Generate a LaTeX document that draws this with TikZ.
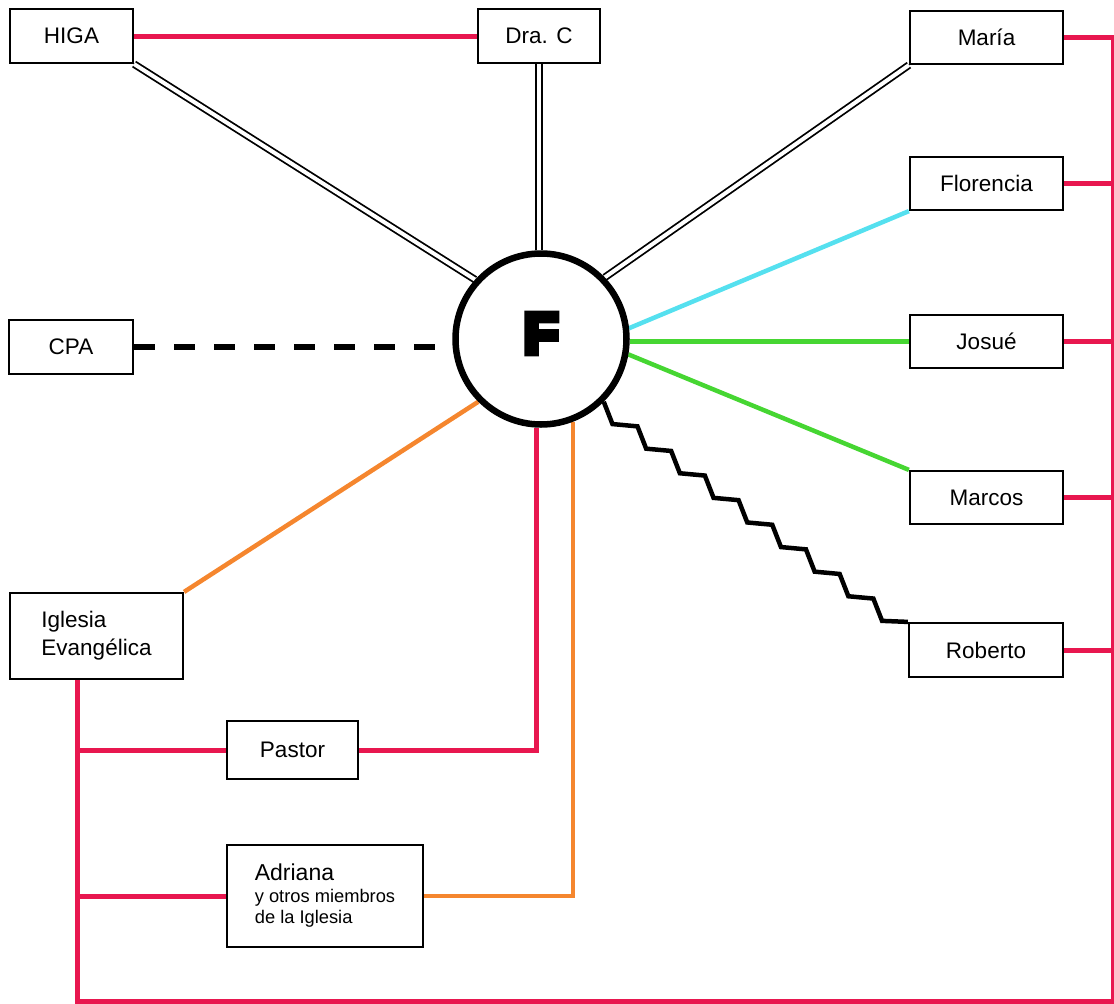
\documentclass[tikz,border=0pt]{standalone}
\usepackage{fontspec}
\setmainfont{Liberation Sans}
\newfontfamily\heavyfont[BoldFeatures={FakeBold=11}]{Liberation Sans}
\usetikzlibrary{calc}
\pgfdeclarelayer{bg}
\pgfsetlayers{bg,main}
\definecolor{relred}{HTML}{E8174F}
\definecolor{relora}{HTML}{F5862E}
\definecolor{relgrn}{HTML}{46D632}
\definecolor{relcya}{HTML}{55E0EF}
\begin{document}
\begin{tikzpicture}[x=1pt,y=-1pt,
  box/.style={draw=black, line width=2.2pt, fill=white, inner sep=0pt,
    font=\fontsize{22.5}{28}\selectfont},
  fcirc/.style={circle, draw=black, line width=6.5pt, fill=white, inner sep=0pt, minimum size=171pt},
  redline/.style={draw=relred, line width=5pt},
  oraline/.style={draw=relora, line width=4.5pt},
  grnline/.style={draw=relgrn, line width=4.5pt},
  cyaline/.style={draw=relcya, line width=4.5pt},
  dbl/.style={draw=black, line width=1.8pt, double=white, double distance=4pt},
  dashline/.style={draw=black, line width=5.5pt, dash pattern=on 21pt off 19pt},
  zigline/.style={draw=black, line width=4.5pt, line join=miter}
]
\useasboundingbox (0,0) rectangle (1114,1004);

% nodes
\node[box, minimum width=123pt, minimum height=54pt] (HIGA) at (71.5,36) {HIGA};
\node[box, minimum width=122pt, minimum height=54pt] (DraC) at (539,36) {Dra. C};
\node[box, minimum width=153pt, minimum height=53pt] (Maria) at (986.5,37.5) {María};
\node[box, minimum width=153pt, minimum height=53pt] (Florencia) at (986.5,183.5) {Florencia};
\node[box, minimum width=153pt, minimum height=53pt] (Josue) at (986.5,341.5) {Josué};
\node[box, minimum width=153pt, minimum height=53pt] (Marcos) at (986.5,497.5) {Marcos};
\node[box, minimum width=154pt, minimum height=54pt] (Roberto) at (986,650) {Roberto};
\node[box, minimum width=124pt, minimum height=54pt] (CPA) at (71,347) {CPA};
\node[box, minimum width=173pt, minimum height=86pt, align=left] (Iglesia) at (96.5,636) {Iglesia\\Evangélica};
\node[box, minimum width=131pt, minimum height=58pt] (Pastor) at (292.5,750) {Pastor};
\node[box, minimum width=196pt, minimum height=102pt, align=left,
      font=\fontsize{18.3}{21.5}\selectfont] (Adriana) at (325,896)
      {{\fontsize{23}{22}\selectfont Adriana}\\y otros miembros\\de la Iglesia};
\node[fcirc, label={[font=\fontsize{57}{57}\heavyfont\bfseries, yshift=5.5pt]center:F}] (F) at (541,339) {};

\begin{pgfonlayer}{bg}
  % double links
  \draw[dbl] (HIGA.south east) -- (F.138);
  \draw[dbl] (DraC.south) -- (DraC.south |- F.north);
  \draw[dbl] (Maria.south west) -- (F.44);
  % red top link
  \draw[redline] (HIGA.east) -- (DraC.west);
  % coloured links
  \draw[cyaline] (Florencia.south west) -- (F.7);
  \draw[grnline] (Josue.west) -- (Josue.west -| F.east);
  \draw[grnline] (Marcos.north west) -- (F.-10);
  \draw[dashline] (CPA.east) -- (CPA.east -| F.west);
  \draw[oraline] (Iglesia.north east) -- (F.-135);
  \draw[oraline] (Adriana.east) -| (F.-69);
  \draw[redline] (Pastor.east) -| (F.-93);
  % zigzag to Roberto
  \draw[zigline] (F.-45)
    -- ++(8.7,22.3) -- ++(25,2.3)
    -- ++(8.7,22.3) -- ++(25,2.3)
    -- ++(8.7,22.3) -- ++(25,2.3)
    -- ++(8.7,22.3) -- ++(25,2.3)
    -- ++(8.7,22.3) -- ++(25,2.3)
    -- ++(8.7,22.3) -- ++(25,2.3)
    -- ++(8.7,22.3) -- ++(25,2.3)
    -- ++(8.7,22.3) -- ++(25,2.3)
    -- ++(8.7,22.3) -- (Roberto.north west);
  % red network
  \coordinate (ig) at ($(Iglesia.south west)+(69,0)$);
  \coordinate (rx) at (1113.5,1001);
  \draw[redline] (ig) -- (ig |- rx) -- (rx) -- (rx |- Maria.east) -- (Maria.east);
  \draw[redline] (Florencia.east) -- (Florencia.east -| rx);
  \draw[redline] (Josue.east) -- (Josue.east -| rx);
  \draw[redline] (Marcos.east) -- (Marcos.east -| rx);
  \draw[redline] (Roberto.east) -- (Roberto.east -| rx);
  \draw[redline] (Pastor.west -| ig) -- (Pastor.west);
  \draw[redline] (Adriana.west -| ig) -- (Adriana.west);
\end{pgfonlayer}
\end{tikzpicture}
\end{document}
